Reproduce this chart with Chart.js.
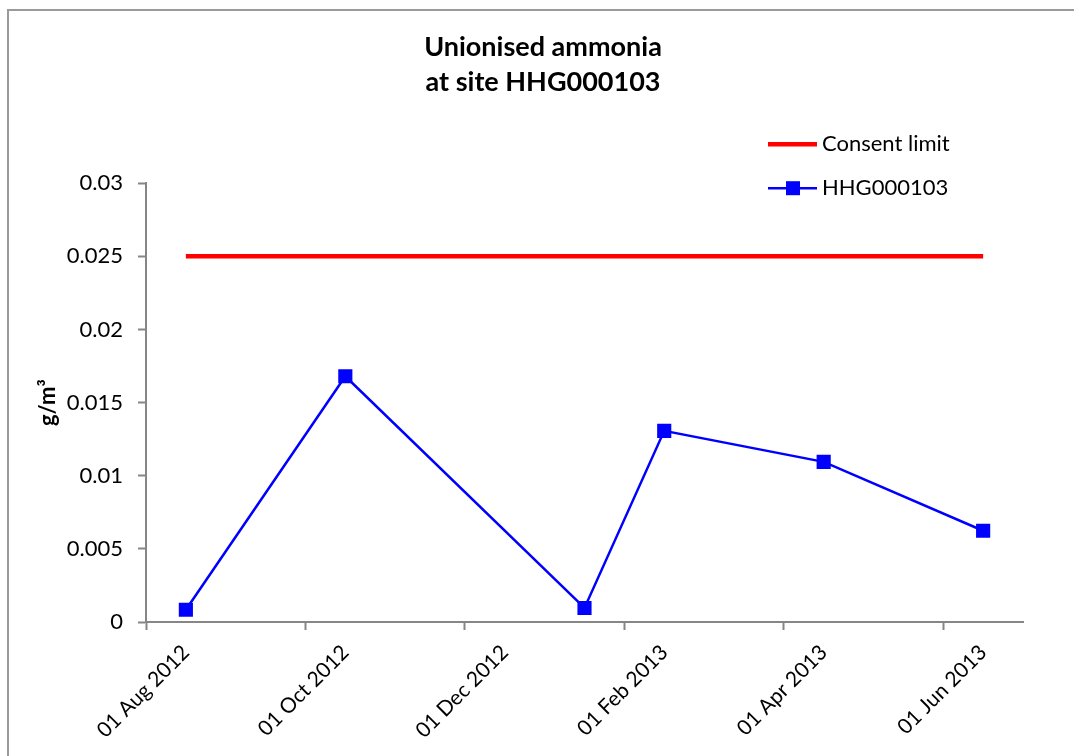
<!DOCTYPE html>
<html>
<head>
<meta charset="utf-8">
<script src="https://cdn.jsdelivr.net/npm/chart.js@4.4.1/dist/chart.umd.min.js"></script>
<style>
  html, body { margin: 0; padding: 0; background: #fff; overflow: hidden; }
  #wrap { position: relative; width: 1074px; height: 756px; }
  #frame { position: absolute; left: 7px; top: 9px; width: 1100px; height: 800px;
           border: 2px solid #9a9a9a; box-sizing: border-box; pointer-events: none; }
  canvas { position: absolute; left: 0; top: 0; }
</style>
</head>
<body>
<div id="wrap">
  <canvas id="chart" width="1074" height="756"></canvas>
  <div id="frame"></div>
</div>
<script>
// one category per month, points sit in the middle of their month
const monthLabels = ['01 Aug 2012', '01 Sep 2012', '01 Oct 2012', '01 Nov 2012', '01 Dec 2012',
  '01 Jan 2013', '01 Feb 2013', '01 Mar 2013', '01 Apr 2013', '01 May 2013', '01 Jun 2013'];
const siteValues = [0.00084, null, 0.0168, null, null, 0.00096, 0.01307, null, 0.01095, null, 0.00624];
const consentLimit = [0.025, 0.025, 0.025, 0.025, 0.025, 0.025, 0.025, 0.025, 0.025, 0.025, 0.025];
const yTickValues = [0, 0.005, 0.01, 0.015, 0.02, 0.025, 0.03];
const yTickLabels = ['0', '0.005', '0.01', '0.015', '0.02', '0.025', '0.03'];

const FONT = 'Lato, "Liberation Sans", sans-serif';
const AXIS_GREY = '#868686';

const sideLegend = {
  id: 'sideLegend',
  afterDraw(chart) {
    const ctx = chart.ctx;
    const area = chart.chartArea;
    const x0 = area.right - 255;
    chart.data.datasets.forEach((ds, i) => {
      const y = area.top - 39 + i * 44;
      ctx.save();
      ctx.strokeStyle = ds.borderColor;
      ctx.lineWidth = ds.borderWidth;
      ctx.beginPath();
      ctx.moveTo(x0, y);
      ctx.lineTo(x0 + 49, y);
      ctx.stroke();
      if (ds.pointRadius > 0) {
        ctx.fillStyle = ds.pointBackgroundColor;
        ctx.fillRect(x0 + 25 - 7, y - 7, 14, 14);
      }
      ctx.fillStyle = '#000';
      ctx.font = '22px ' + FONT;
      ctx.textAlign = 'left';
      ctx.textBaseline = 'middle';
      ctx.fillText(ds.label, x0 + 54, y);
      ctx.restore();
    });
  }
};

new Chart(document.getElementById('chart'), {
  type: 'line',
  data: {
    labels: monthLabels,
    datasets: [
      {
        label: 'Consent limit',
        data: consentLimit,
        borderColor: '#ff0000',
        borderWidth: 4.5,
        pointRadius: 0,
        fill: false
      },
      {
        label: 'HHG000103',
        data: siteValues,
        borderColor: '#0000ff',
        borderWidth: 2.5,
        spanGaps: true,
        pointStyle: 'rect',
        pointRadius: 10,
        pointBorderWidth: 0,
        pointBackgroundColor: '#0000ff',
        pointBorderColor: '#0000ff',
        fill: false
      }
    ]
  },
  options: {
    responsive: false,
    animation: false,
    layout: { padding: { left: 12, right: 0, top: 0, bottom: 0 } },
    plugins: {
      legend: { display: false },
      tooltip: { enabled: false },
      title: {
        display: true,
        text: ['Unionised ammonia', 'at site HHG000103'],
        color: '#000',
        font: { family: FONT, size: 27, weight: 'bold', lineHeight: 1.3 },
        padding: { top: 30, bottom: 83 }
      }
    },
    scales: {
      x: {
        type: 'category',
        offset: true,
        afterFit(scale) { scale.height = 134; },
        grid: {
          offset: true,
          drawOnChartArea: false,
          drawTicks: true,
          tickLength: 8,
          tickWidth: 2,
          tickColor: (c) => (c.index % 2 === 0 ? AXIS_GREY : 'rgba(0,0,0,0)')
        },
        border: { color: AXIS_GREY, width: 2 },
        ticks: {
          autoSkip: false,
          maxRotation: 45,
          minRotation: 45,
          padding: 10,
          color: '#000',
          font: { family: FONT, size: 21 },
          callback: (v, i) => (i % 2 === 0 ? monthLabels[i] : '')
        }
      },
      y: {
        min: 0,
        max: 0.03,
        afterFit(scale) { scale.width = 134; },
        afterBuildTicks(scale) { scale.ticks = yTickValues.map(v => ({ value: v })); },
        grid: {
          drawOnChartArea: false,
          drawTicks: true,
          tickLength: 8,
          tickWidth: 2,
          tickColor: AXIS_GREY
        },
        border: { color: AXIS_GREY, width: 2 },
        ticks: {
          padding: 15,
          color: '#000',
          font: { family: FONT, size: 22 },
          callback: (v, i) => yTickLabels[i]
        },
        title: {
          display: true,
          text: 'g/m³',
          color: '#000',
          font: { family: FONT, size: 22, weight: 'bold' },
          padding: { top: 23, bottom: 0 }
        }
      },
      // empty right-hand strip so the plot stops where the original does
      yRight: {
        position: 'right',
        display: true,
        afterFit(scale) { scale.width = 51; },
        grid: { display: false },
        border: { display: false },
        ticks: { display: false }
      }
    }
  },
  plugins: [sideLegend]
});
</script>
</body>
</html>
